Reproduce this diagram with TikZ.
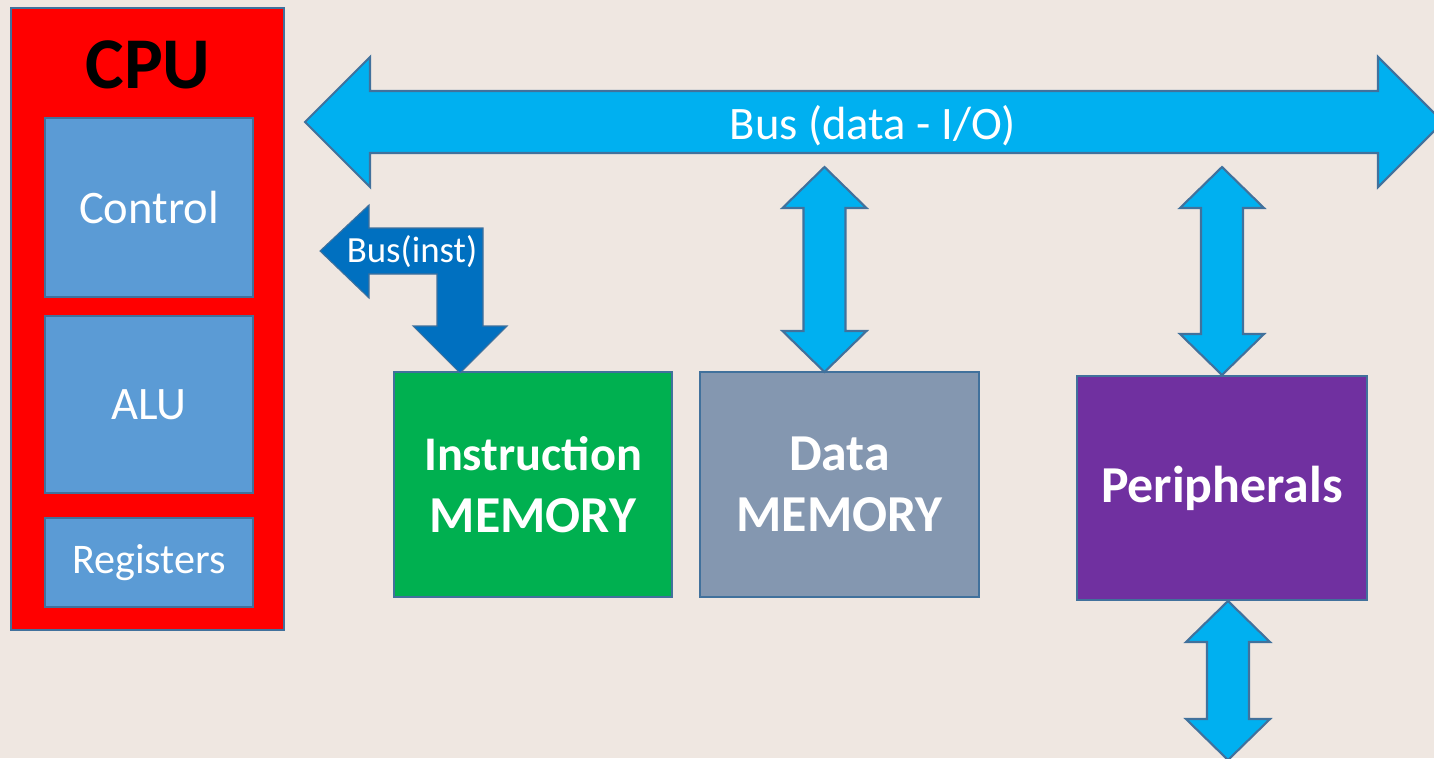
\documentclass[tikz,border=0pt]{standalone}
\usepackage{fontspec}
\usepackage{xcolor}
\setmainfont{Carlito}

\definecolor{edgeblue}{HTML}{41719C}
\definecolor{unitblue}{HTML}{5B9BD5}
\definecolor{busblue}{HTML}{00B0F0}
\definecolor{instblue}{HTML}{0070C0}
\definecolor{memgreen}{HTML}{00B050}
\definecolor{memgray}{HTML}{8497B0}
\definecolor{perpurple}{HTML}{7030A0}
\definecolor{backdrop}{RGB}{239,231,225}

\begin{document}
\begin{tikzpicture}[x=0.02cm, y=-0.02cm,
    unit/.style={draw=edgeblue, line width=1.2pt, fill=unitblue, text=white,
                 font=\fontsize{26.5}{32}\selectfont},
    mem/.style={draw=edgeblue, line width=1.2pt, text=white, align=center,
                font=\fontsize{29.5}{35}\selectfont\bfseries},
    busarrow/.style={draw=edgeblue, line width=1.2pt, fill=busblue, line join=miter}]
    % background and frame
    \fill[backdrop] (0,0) rectangle (1434,758);
    \useasboundingbox (0,0) rectangle (1434,758);
    \clip (0,0) rectangle (1434,758);

    % the processor
    \node[draw=edgeblue, line width=1.2pt, fill=red, minimum width=5.46cm, minimum height=12.44cm] (cpu) at (147.5,319) {};
    \node[font=\fontsize{41.5}{48}\selectfont\bfseries] (cputitle) at (148,65) {CPU};
    \node[unit, minimum width=4.16cm, minimum height=3.58cm] (ctrl) at (149,207.5) {Control};
    \node[unit, minimum width=4.16cm, minimum height=3.54cm] (alu) at (149,404.5) {ALU};
    \node[unit, minimum width=4.16cm, minimum height=1.78cm, font=\fontsize{24}{29}\selectfont] (regs) at (149,562.5) {Registers};

    % memories and peripherals
    \node[mem, fill=memgreen, minimum width=5.56cm, minimum height=4.5cm] (imem) at (533,484.5) {{\fontsize{27.5}{35}\selectfont Instruction}\\MEMORY};
    \node[mem, fill=memgray, minimum width=5.58cm, minimum height=4.5cm] (dmem) at (839.5,484.5) {Data\\MEMORY};
    \node[mem, fill=perpurple, minimum width=5.8cm, minimum height=4.48cm] (periph) at (1222,488) {\raisebox{-3pt}{Peripherals}};

    % data / IO bus
    \draw[busarrow] (305,122) -- (370,57) -- (370,91) -- (1378,91) -- (1378,57) -- (1443,122)
        -- (1378,187) -- (1378,153) -- (370,153) -- (370,187) -- cycle;
    \node[text=white, font=\fontsize{26.5}{32}\selectfont] (buslabel) at (873,126) {Bus (data - I/O)};

    % instruction bus into the instruction memory
    \draw[draw=edgeblue, line width=0.6pt, fill=instblue] (320,251) -- (369,205) -- (369,228) -- (483,228)
        -- (483,326) -- (507,326) -- (460,373) -- (413,326) -- (437,326) -- (437,274)
        -- (369,274) -- (369,298) -- cycle;
    \node[text=white, font=\fontsize{21}{25}\selectfont] (instlabel) at (412,252) {Bus(inst)};

    % links from the bus down to the blocks
    \foreach \x/\ya/\yb in {824.5/167/372, 1222/167/375, 1228/601/760}
        \draw[busarrow] (\x,\ya) -- (\x+42,\ya+41) -- (\x+21,\ya+41) -- (\x+21,\yb-41) -- (\x+42,\yb-41)
            -- (\x,\yb) -- (\x-42,\yb-41) -- (\x-21,\yb-41) -- (\x-21,\ya+41) -- (\x-42,\ya+41) -- cycle;
\end{tikzpicture}
\end{document}
